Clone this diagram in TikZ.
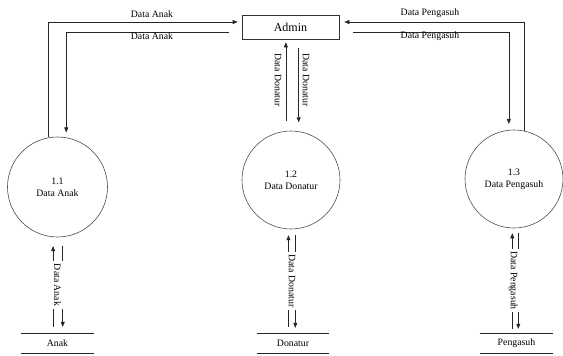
\documentclass[tikz,border=0pt]{standalone}
\usepackage{fontspec}
\setmainfont{Liberation Serif}
\usetikzlibrary{arrows.meta,calc}
\begin{document}
\begin{tikzpicture}[x=1pt,y=-1pt,
  every node/.style={font=\fontsize{9.8}{12}\selectfont, inner sep=0pt, text=black},
  ln/.style={line width=0.6pt, draw=black!85},
  arr/.style={ln, -{Triangle[length=5pt,width=4pt]}},
  proc/.style={circle, draw=black!70, line width=0.6pt, align=center},
  storebox/.style={minimum height=20pt},
  vlbl/.style={rotate=-90, inner sep=2pt},
  blbl/.style={rotate=-90, fill=white, inner sep=2.5pt}]
\useasboundingbox (0,0) rectangle (563,356);

% entity
\node[draw=black!80, line width=0.6pt, minimum width=97pt, minimum height=24pt,
      font=\fontsize{12}{14}\selectfont] (admin) at (290.5,27) {Admin};

% processes
\node[proc, minimum size=100pt] (c1) at (57.5,187) {1.1\\Data Anak};
\node[proc, minimum size=98pt] (c2) at (291,180) {1.2\\Data Donatur};
\node[proc, minimum size=98pt] (c3) at (514,179) {1.3\\Data Pengasuh};

% stores
\node[storebox, minimum width=73pt] (sA) at (57.5,343) {Anak};
\node[storebox, minimum width=72pt] (sD) at (293,343) {Donatur};
\node[storebox, minimum width=73pt] (sP) at (516.5,343) {Pengasuh};
\foreach \s in {sA,sD,sP}{
  \draw[ln] (\s.north west) -- (\s.north east);
  \draw[ln] (\s.south west) -- (\s.south east);
}

% top flows left
\draw[arr] (c1.100) |- ([yshift=5pt,xshift=-4pt]admin.west);
\draw[arr, shorten >=5pt] ([yshift=-5pt,xshift=-13pt]admin.west) -| (c1.80);
\node (la1) at (152,14) {Data Anak};
\node (la2) at (152,36) {Data Anak};

% top flows right
\draw[arr] (c3.78) |- ([yshift=5pt,xshift=5pt]admin.east);
\draw[arr, shorten >=6pt] ([yshift=-5pt,xshift=14pt]admin.east) -| (c3.96);
\node (lp1) at (430,13) {Data Pengasuh};
\node (lp2) at (430,36) {Data Pengasuh};

% middle flows
\draw[arr, shorten <=10pt, shorten >=3pt] (c2.96) -- (c2.96 |- admin.south);
\draw[arr, shorten <=9pt, shorten >=9pt] (c2.81 |- admin.south) -- (c2.81);
\node[vlbl] (ld1) at (278,80) {Data Donatur};
\node[vlbl] (ld2) at (306,80) {Data Donatur};

% bottom flows
\draw[arr, shorten <=6pt, shorten >=9pt] (c1.-95 |- sA.north) -- (c1.-95);
\draw[arr, shorten <=9pt, shorten >=6pt] (c1.-84) -- (c1.-84 |- sA.north);
\path (c1.-90) -- (sA.north) node[midway, blbl] (lb1) {Data Anak};

\draw[arr, shorten <=6pt, shorten >=6pt] (c2.-93.5 |- sD.north) -- (c2.-93.5);
\draw[arr, shorten <=6pt, shorten >=5pt] (c2.-85.3) -- (c2.-85.3 |- sD.north);
\path (c2.-90) -- (sD.north) node[midway, blbl] (lb2) {Data Donatur};

\draw[arr, shorten <=4pt, shorten >=5pt] (c3.-92.3 |- sP.north) -- (c3.-92.3);
\draw[arr, shorten <=5pt, shorten >=4pt] (c3.-85.3) -- (c3.-85.3 |- sP.north);
\path (c3.-90) -- (sP.north) node[midway, blbl, yshift=-2pt] (lb3) {Data Pengasuh};
\end{tikzpicture}
\end{document}
